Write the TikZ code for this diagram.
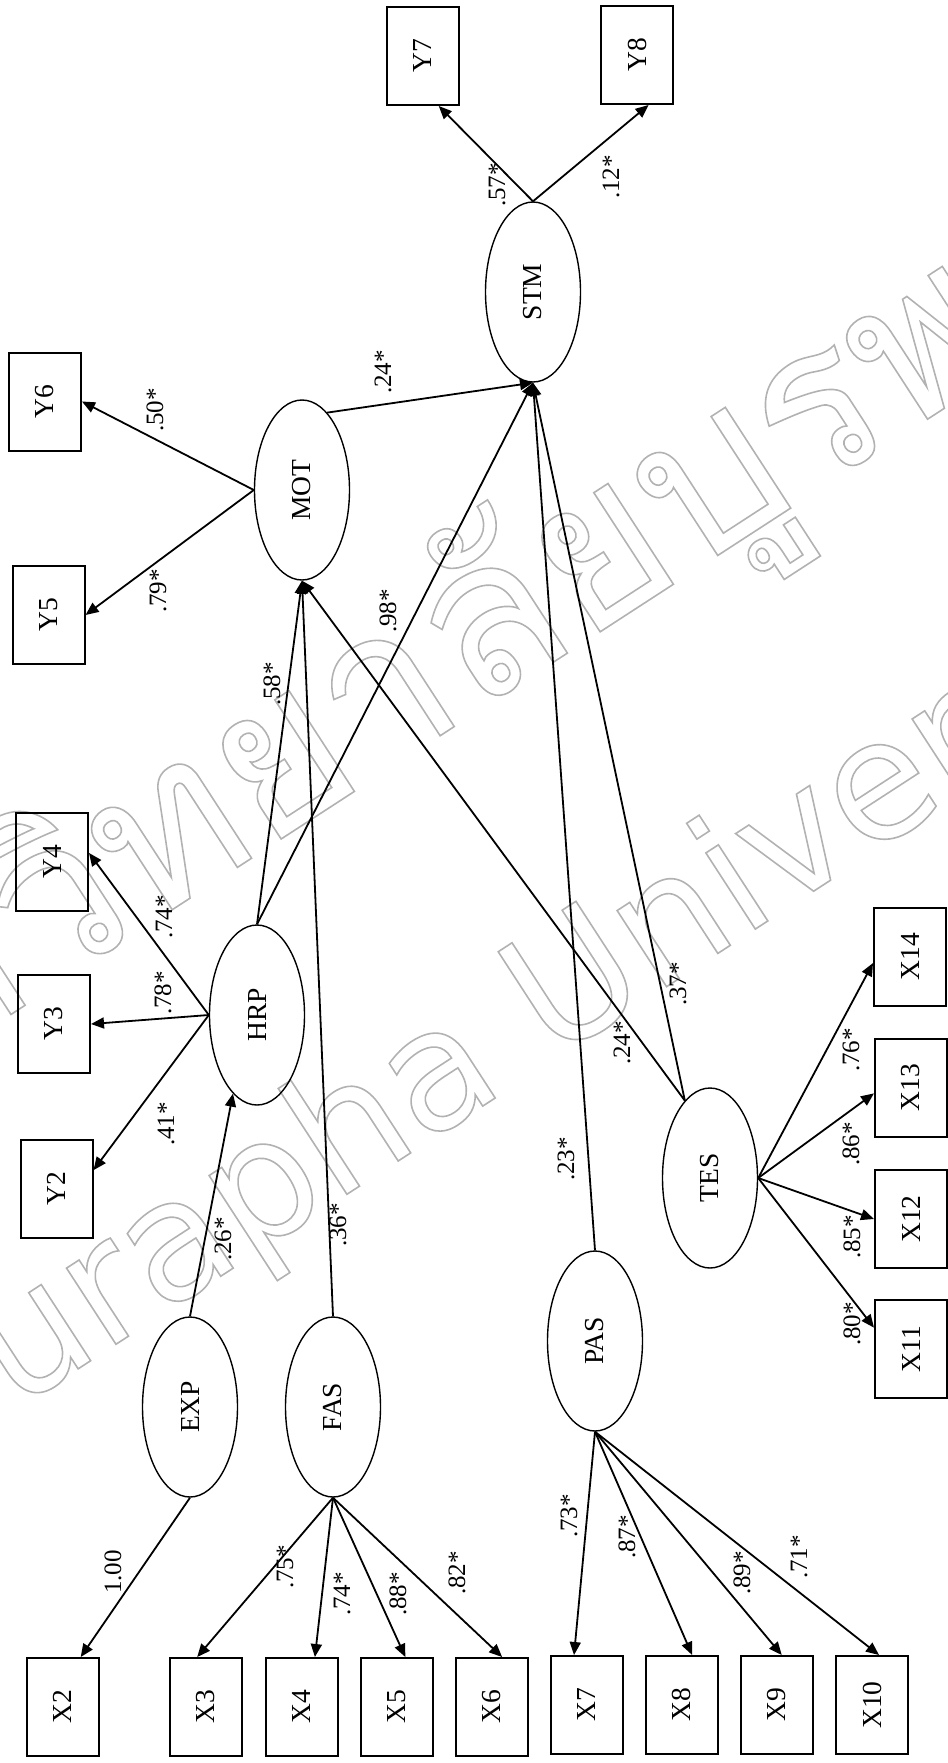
\documentclass[tikz,border=0pt]{standalone}
\usepackage{fontspec}
\usepackage{graphicx}
\setmainfont{Liberation Serif}
\newfontfamily\thaifont[Script=Thai]{Loma}
\newfontfamily\wmfont{DejaVu Sans}
\usetikzlibrary{shapes.geometric,arrows.meta}

\newlength{\du}
\setlength{\du}{0.5pt}

\definecolor{wmcolor}{rgb}{0.700000, 0.700000, 0.700000}

\tikzset{
  latent/.style={draw, ellipse, line width=0.7pt, minimum width=95\du,
    minimum height=180\du, inner sep=0pt, font=\fontsize{13.75}{16}\selectfont},
  observed/.style={draw, rectangle, line width=1pt, minimum width=72\du,
    minimum height=98\du, inner sep=0pt, font=\fontsize{13.75}{16}\selectfont},
  coef/.style={rotate=90, inner sep=0pt, font=\fontsize{12.5}{14}\selectfont},
  path/.style={line width=0.9pt, -{Triangle[length=6.5pt,width=5.5pt]}},
  wmark/.style={inner sep=0pt, text=wmcolor, rotate=33}
}
\newcommand{\up}[1]{\rotatebox{90}{#1}}
\newcommand{\hollow}{\special{pdf:literal direct 1 Tr 0.8 w}}

\begin{document}
\begin{tikzpicture}
\pgftransformxscale{1.000000}
\pgftransformyscale{-1.000000}
\useasboundingbox (0\du,0\du) rectangle (948\du,1763\du);
% watermark
\node[wmark, font=\fontsize{108}{108}\selectfont] (wmthai) at (380\du,705\du)
  {\hollow\thaifont มหาวิทยาลัยบูรพา};
\node[wmark, font=\fontsize{83}{83}\selectfont] (wmlatin) at (562\du,1000\du)
  {\hollow\wmfont Burapha University};
% latent variables
\node[latent] (STM) at (533\du,292\du) {\up{STM}};
\node[latent] (MOT) at (302\du,490\du) {\up{MOT}};
\node[latent] (HRP) at (257\du,1015\du) {\up{HRP}};
\node[latent] (EXP) at (190\du,1407\du) {\up{EXP}};
\node[latent] (FAS) at (333\du,1407\du) {\up{FAS}};
\node[latent] (PAS) at (595\du,1341\du) {\up{PAS}};
\node[latent] (TES) at (710\du,1178\du) {\up{TES}};
% observed variables
\node[observed] (Y7) at (422.5\du,56\du) {\up{Y7}};
\node[observed] (Y8) at (637\du,55\du) {\up{Y8}};
\node[observed] (Y6) at (45\du,401.5\du) {\up{Y6}};
\node[observed] (Y5) at (48.5\du,615\du) {\up{Y5}};
\node[observed] (Y4) at (52\du,861.5\du) {\up{Y4}};
\node[observed] (Y3) at (54\du,1024\du) {\up{Y3}};
\node[observed] (Y2) at (56.5\du,1189\du) {\up{Y2}};
\node[observed] (X2) at (62.5\du,1707\du) {\up{X2}};
\node[observed] (X3) at (206\du,1707\du) {\up{X3}};
\node[observed] (X4) at (301.5\du,1707\du) {\up{X4}};
\node[observed] (X5) at (396.5\du,1707\du) {\up{X5}};
\node[observed] (X6) at (491.5\du,1707\du) {\up{X6}};
\node[observed] (X7) at (586.5\du,1705\du) {\up{X7}};
\node[observed] (X8) at (681.5\du,1705\du) {\up{X8}};
\node[observed] (X9) at (776.5\du,1705\du) {\up{X9}};
\node[observed] (X10) at (872\du,1705\du) {\up{X10}};
\node[observed] (X14) at (910\du,956.5\du) {\up{X14}};
\node[observed] (X13) at (911\du,1087.5\du) {\up{X13}};
\node[observed] (X12) at (911\du,1219\du) {\up{X12}};
\node[observed] (X11) at (911\du,1349\du) {\up{X11}};
% structural paths
\draw[path] (MOT.72) -- (STM.south);
\draw[path] (HRP.north) -- (MOT.south);
\draw[path] (HRP.north) -- (STM.south);
\draw[path] (FAS.north) -- (MOT.south);
\draw[path] (EXP.north) -- (HRP.-107);
\draw[path] (PAS.north) -- (STM.south);
\draw[path] (TES.108) -- (MOT.south);
\draw[path] (TES.108) -- (STM.south);
% measurement paths
\draw[path] (STM.north) -- (Y7.-72);
\draw[path] (STM.north) -- (Y8.-77);
\draw[path] (MOT.west) -- (Y6.east);
\draw[path] (MOT.west) -- (Y5.east);
\draw[path] (HRP.west) -- (Y4.13);
\draw[path] (HRP.west) -- (Y3.east);
\draw[path] (HRP.west) -- (Y2.27);
\draw[path] (EXP.south) -- (X2.70);
\draw[path] (FAS.south) -- (X3.100);
\draw[path] (FAS.south) -- (X4.75);
\draw[path] (FAS.south) -- (X5.80);
\draw[path] (FAS.south) -- (X6.78);
\draw[path] (PAS.south) -- (X7.104);
\draw[path] (PAS.south) -- (X8.78);
\draw[path] (PAS.south) -- (X9.84);
\draw[path] (PAS.south) -- (X10.82);
\draw[path] (TES.east) -- (X14.190);
\draw[path] (TES.east) -- (X13.189);
\draw[path] (TES.east) -- (X12.west);
\draw[path] (TES.east) -- (X11.150);
% coefficients
\node[coef] at (383\du,372\du) {.24*};
\node[coef] at (155\du,410\du) {.50*};
\node[coef] at (497\du,185\du) {.57*};
\node[coef] at (611\du,177\du) {.12*};
\node[coef] at (158\du,591\du) {.79*};
\node[coef] at (272\du,684\du) {.58*};
\node[coef] at (388\du,611\du) {.98*};
\node[coef] at (164\du,917\du) {.74*};
\node[coef] at (163\du,993\du) {.78*};
\node[coef] at (166\du,1124\du) {.41*};
\node[coef] at (223\du,1239\du) {.26*};
\node[coef] at (338\du,1225\du) {.36*};
\node[coef] at (566\du,1159\du) {.23*};
\node[coef] at (622\du,1043\du) {.24*};
\node[coef] at (678\du,984\du) {.37*};
\node[coef] at (851\du,1050\du) {.76*};
\node[coef] at (851\du,1144\du) {.86*};
\node[coef] at (852\du,1237\du) {.85*};
\node[coef] at (852\du,1324\du) {.80*};
\node[coef] at (113\du,1572\du) {1.00};
\node[coef] at (285\du,1567\du) {.75*};
\node[coef] at (342\du,1594\du) {.74*};
\node[coef] at (398\du,1594\du) {.88*};
\node[coef] at (457\du,1573\du) {.82*};
\node[coef] at (569\du,1516\du) {.73*};
\node[coef] at (627\du,1537\du) {.87*};
\node[coef] at (742\du,1573\du) {.89*};
\node[coef] at (799\du,1557\du) {.71*};
\end{tikzpicture}
\end{document}
